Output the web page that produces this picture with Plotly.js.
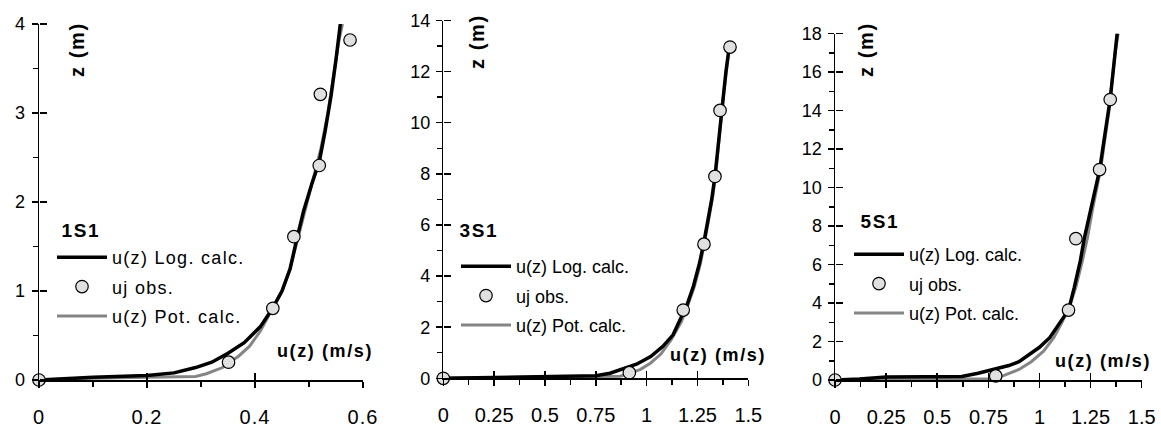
<!DOCTYPE html>
<html>
<head>
<meta charset="utf-8">
<script src="https://cdn.plot.ly/plotly-3.0.1.min.js"></script>
<style>
html,body{margin:0;padding:0;background:#fff;}
#chart{width:1161px;height:426px;}
#chart .xtick text, #chart .ytick text{letter-spacing:1px;}
#chart .legendtext{letter-spacing:1.3px;}
#chart .annotation-text{letter-spacing:1.6px;}
#chart .legend .scrollbox{clip-path:none !important;}
</style>
</head>
<body>
<div id="chart"></div>
<script>
// ---------- Panel 1 : 1S1 ----------
const p1Name = '1S1';
const p1ObsU = [0, 0.351, 0.433, 0.472, 0.519, 0.521, 0.576];
const p1ObsZ = [0, 0.20, 0.805, 1.61, 2.41, 3.21, 3.82];
const p1LogU = [0, 0.10, 0.20, 0.25, 0.29, 0.32, 0.35, 0.38, 0.41, 0.432, 0.45, 0.465, 0.478, 0.49, 0.505, 0.519, 0.53, 0.541, 0.55, 0.558];
const p1LogZ = [0, 0.03, 0.05, 0.08, 0.14, 0.20, 0.30, 0.42, 0.60, 0.80, 1.0, 1.25, 1.6, 1.9, 2.2, 2.45, 2.8, 3.2, 3.6, 4.0];
const p1PotU = [0, 0.10, 0.20, 0.29, 0.31, 0.34, 0.37, 0.39, 0.41, 0.43, 0.45, 0.465, 0.48, 0.495, 0.51, 0.522, 0.535, 0.545, 0.555, 0.562];
const p1PotZ = [0, 0.02, 0.03, 0.04, 0.07, 0.14, 0.27, 0.38, 0.55, 0.78, 1.0, 1.25, 1.6, 1.95, 2.3, 2.6, 3.0, 3.4, 3.8, 4.0];

// ---------- Panel 2 : 3S1 ----------
const p2Name = '3S1';
const p2ObsU = [0, 0.915, 1.18, 1.282, 1.336, 1.361, 1.41];
const p2ObsZ = [0, 0.22, 2.67, 5.25, 7.90, 10.48, 12.96];
const p2LogU = [0, 0.25, 0.5, 0.75, 0.82, 0.88, 0.95, 1.02, 1.08, 1.13, 1.17, 1.20, 1.23, 1.26, 1.28, 1.30, 1.32, 1.336, 1.35, 1.361, 1.375, 1.39, 1.405];
const p2LogZ = [0, 0.03, 0.06, 0.10, 0.20, 0.35, 0.55, 0.85, 1.25, 1.7, 2.4, 2.9, 3.6, 4.5, 5.25, 6.1, 7.0, 7.9, 9.0, 10.0, 11.0, 12.0, 12.9];
const p2PotU = [0, 0.25, 0.5, 0.75, 0.87, 0.92, 0.97, 1.02, 1.07, 1.12, 1.17, 1.20, 1.235, 1.265, 1.285, 1.305, 1.325, 1.34, 1.352, 1.363, 1.377, 1.392, 1.407];
const p2PotZ = [0, 0.02, 0.04, 0.06, 0.08, 0.20, 0.35, 0.60, 0.95, 1.5, 2.2, 2.8, 3.6, 4.5, 5.3, 6.2, 7.1, 8.0, 9.0, 10.0, 11.0, 12.0, 12.9];

// ---------- Panel 3 : 5S1 ----------
const p3Name = '5S1';
const p3ObsU = [0, 0.786, 1.142, 1.178, 1.294, 1.346, 1.382];
const p3ObsZ = [0, 0.21, 3.63, 7.34, 10.93, 14.57, 18.03];
const p3LogU = [0, 0.12, 0.25, 0.5, 0.62, 0.70, 0.78, 0.85, 0.90, 0.95, 1.0, 1.05, 1.10, 1.142, 1.17, 1.20, 1.22, 1.25, 1.275, 1.294, 1.315, 1.335, 1.346, 1.365, 1.38];
const p3LogZ = [0, 0.05, 0.15, 0.15, 0.18, 0.35, 0.55, 0.75, 0.95, 1.3, 1.7, 2.2, 3.0, 3.63, 4.8, 6.2, 7.4, 8.9, 10.0, 10.9, 12.4, 14.0, 14.6, 16.5, 18.0];
const p3PotU = [0, 0.25, 0.5, 0.78, 0.83, 0.90, 0.96, 1.02, 1.07, 1.11, 1.15, 1.18, 1.21, 1.235, 1.26, 1.285, 1.30, 1.32, 1.34, 1.355, 1.37, 1.385];
const p3PotZ = [0, 0.03, 0.05, 0.07, 0.25, 0.55, 0.95, 1.5, 2.2, 3.0, 3.9, 4.9, 6.2, 7.4, 8.9, 10.2, 11.0, 12.5, 14.0, 15.5, 17.0, 18.0];

// ---------- Axes / labels ----------
const xTitle = 'u(z) (m/s)';
const yTitle = 'z (m)';
const legLog = 'u(z) Log. calc.';
const legObs = 'uj obs.';
const legPot = 'u(z) Pot. calc.';

const p1Range = {x: [0, 0.6], y: [0, 4], xd: 0.2, xm: 0.1, yd: 1, ym: 0.5};
const p2Range = {x: [0, 1.5], y: [0, 14], xd: 0.25, xm: 0.125, yd: 2, ym: 1};
const p3Range = {x: [0, 1.5], y: [0, 18], xd: 0.25, xm: 0.125, yd: 2, ym: 1};

const FONT = 'Liberation Sans, Arial, Helvetica, sans-serif';
const W = 1161, H = 426;
const px = v => v / W;
const py = v => 1 - v / H;

const panels = [
  {name: p1Name, obsU: p1ObsU, obsZ: p1ObsZ, logU: p1LogU, logZ: p1LogZ, potU: p1PotU, potZ: p1PotZ, r: p1Range,
   dom: {x: [39, 363], y: [24, 380]}, leg: [52, 239], title: [81, 230], zlab: [77, 50], ulab: [325, 351]},
  {name: p2Name, obsU: p2ObsU, obsZ: p2ObsZ, logU: p2LogU, logZ: p2LogZ, potU: p2PotU, potZ: p2PotZ, r: p2Range,
   dom: {x: [443.3, 748.3], y: [20.5, 378.3]}, leg: [456, 248], title: [479, 230], zlab: [477, 42], ulab: [718, 355]},
  {name: p3Name, obsU: p3ObsU, obsZ: p3ObsZ, logU: p3LogU, logZ: p3LogZ, potU: p3PotU, potZ: p3PotZ, r: p3Range,
   dom: {x: [835, 1141.7], y: [33.5, 380]}, leg: [849, 236], title: [880, 221], zlab: [866, 50], ulab: [1103, 361]}
];

const traces = [];
const layout = {
  width: W, height: H,
  margin: {l: 0, r: 0, t: 0, b: 0},
  paper_bgcolor: '#fff', plot_bgcolor: 'rgba(0,0,0,0)',
  font: {family: FONT, color: '#000', size: 16},
  showlegend: true,
  annotations: []
};

panels.forEach((p, i) => {
  const n = i + 1;
  const xa = n === 1 ? 'x' : 'x' + n;
  const ya = n === 1 ? 'y' : 'y' + n;
  const xo = 'x' + (n + 3), yo = 'y' + (n + 3);
  const legId = n === 1 ? 'legend' : 'legend' + n;
  traces.push({
    type: 'scatter', mode: 'lines', x: p.potU, y: p.potZ, xaxis: xa, yaxis: ya,
    name: legPot, legend: legId, legendrank: 3, legendgroup: 'pot' + n,
    line: {color: '#858585', width: 3}, cliponaxis: false, hoverinfo: 'skip'
  });
  traces.push({
    type: 'scatter', mode: 'lines', x: p.logU, y: p.logZ, xaxis: xa, yaxis: ya,
    name: legLog, legend: legId, legendrank: 1, legendgroup: 'log' + n,
    line: {color: '#000', width: 3.5}, cliponaxis: false, hoverinfo: 'skip'
  });
  traces.push({
    type: 'scatter', mode: 'markers', x: p.obsU, y: p.obsZ, xaxis: xa, yaxis: ya,
    name: legObs, legend: legId, legendrank: 2, legendgroup: 'obs' + n,
    marker: {symbol: 'circle', size: 12.5, color: '#e0e0e0', line: {color: '#000', width: 1.2}},
    cliponaxis: false, hoverinfo: 'skip'
  });
  // invisible trace so the twin axes (inner half of crossing major ticks) get drawn
  traces.push({type: 'scatter', mode: 'markers', x: [p.r.x[0]], y: [p.r.y[0]], xaxis: xo, yaxis: yo,
    marker: {opacity: 0}, showlegend: false});

  const xdom = [px(p.dom.x[0]), px(p.dom.x[1])];
  const ydom = [py(p.dom.y[1]), py(p.dom.y[0])];
  const ax = {
    showgrid: false, zeroline: false, showline: true, linecolor: '#000', linewidth: 1.5,
    ticks: 'outside', ticklen: 6, tickwidth: 1.5, tickcolor: '#000'
  };
  layout['xaxis' + (n === 1 ? '' : n)] = Object.assign({}, ax, {
    domain: xdom, anchor: ya, range: p.r.x, tick0: 0, dtick: p.r.xd,
    tickfont: {size: 20, family: FONT}, ticklabelstandoff: 12,
    minor: {ticks: 'outside', ticklen: 5, tickwidth: 1.5, tickcolor: '#000', dtick: p.r.xm, tick0: 0, showgrid: false}
  });
  layout['yaxis' + (n === 1 ? '' : n)] = Object.assign({}, ax, {
    domain: ydom, anchor: xa, range: p.r.y, tick0: 0, dtick: p.r.yd,
    tickfont: {size: 18, family: FONT}, ticklabelstandoff: 2,
    minor: {ticks: 'outside', ticklen: 5, tickwidth: 1.5, tickcolor: '#000', dtick: p.r.ym, tick0: 0, showgrid: false}
  });
  // twin x axis: inside ticks (upward half of the crossing major ticks)
  layout['xaxis' + (n + 3)] = {
    domain: xdom, anchor: yo, range: p.r.x, dtick: p.r.xd,
    showgrid: false, zeroline: false, showline: false, showticklabels: false,
    ticks: 'inside', ticklen: 7, tickwidth: 1.5, tickcolor: '#000'
  };
  // twin y axis: a right-side axis placed on the left edge, so its outside ticks point into the plot
  layout['yaxis' + (n + 3)] = {
    domain: ydom, anchor: 'free', position: xdom[0], side: 'right', range: p.r.y, dtick: p.r.yd,
    showgrid: false, zeroline: false, showline: false, showticklabels: false,
    ticks: 'outside', ticklen: 7, tickwidth: 1.5, tickcolor: '#000'
  };
  layout[legId] = {
    x: px(p.leg[0]), y: py(p.leg[1]), xanchor: 'left', yanchor: 'top',
    bgcolor: 'rgba(0,0,0,0)', borderwidth: 0,
    font: {family: FONT, size: 18, color: '#000'},
    itemwidth: 50, traceorder: 'grouped', tracegroupgap: 3, itemclick: false, itemdoubleclick: false
  };
  layout.annotations.push({
    xref: 'paper', yref: 'paper', x: px(p.title[0]), y: py(p.title[1]),
    text: '<b>' + p.name + '</b>', showarrow: false,
    xanchor: 'center', yanchor: 'middle', font: {family: FONT, size: 19, color: '#000'}
  });
  layout.annotations.push({
    xref: 'paper', yref: 'paper', x: px(p.zlab[0]), y: py(p.zlab[1]),
    text: '<b>' + yTitle + '</b>', textangle: -90, showarrow: false,
    xanchor: 'center', yanchor: 'middle', font: {family: FONT, size: 20, color: '#000'}
  });
  layout.annotations.push({
    xref: 'paper', yref: 'paper', x: px(p.ulab[0]), y: py(p.ulab[1]),
    text: '<b>' + xTitle + '</b>', showarrow: false,
    xanchor: 'center', yanchor: 'middle', font: {family: FONT, size: 18, color: '#000'}
  });
});

Plotly.newPlot('chart', traces, layout, {staticPlot: true, displayModeBar: false});
</script>
</body>
</html>
